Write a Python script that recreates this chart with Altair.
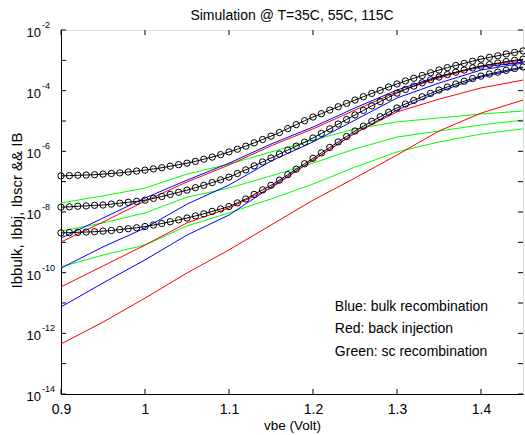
import altair as alt
import pandas as pd

FONT = "Liberation Sans"

# ---- sampling grid of the component curves (Volt) ----
vbe = [0.90, 0.95, 1.00, 1.05, 1.10, 1.15, 1.20, 1.25, 1.30, 1.35, 1.40, 1.45]

# log10 of current (A)
bulk_115 = [-8.86, -8.20, -7.54, -6.95, -6.39, -5.76, -5.20, -4.57, -3.98, -3.52, -3.22, -3.06]
bulk_55 = [-9.85, -9.15, -8.53, -7.74, -7.11, -6.32, -5.69, -4.97, -4.24, -3.75, -3.32, -3.09]
bulk_35 = [-11.13, -10.34, -9.58, -8.76, -8.10, -7.18, -6.29, -5.40, -4.64, -4.04, -3.55, -3.25]
bj_115 = [-8.99, -8.33, -7.64, -7.01, -6.45, -5.82, -5.26, -4.64, -4.04, -3.58, -3.19, -2.99]
bj_55 = [-10.47, -9.78, -9.09, -8.36, -7.87, -7.21, -6.29, -5.40, -4.70, -4.28, -3.91, -3.65]
bj_35 = [-12.35, -11.63, -10.84, -10.01, -9.25, -8.43, -7.61, -6.88, -6.12, -5.33, -4.74, -4.31]
sc_115 = [-7.70, -7.47, -7.21, -6.75, -6.42, -6.02, -5.63, -5.26, -5.03, -4.90, -4.77, -4.67]
sc_55 = [-8.63, -8.36, -8.03, -7.51, -7.21, -6.81, -6.39, -5.92, -5.53, -5.33, -5.13, -4.97]
sc_35 = [-9.81, -9.42, -9.09, -8.46, -8.03, -7.57, -7.08, -6.52, -6.02, -5.69, -5.43, -5.26]

# ---- total base current IB (black, circles) every 10 mV ----
vbe_ib = [0.90, 0.91, 0.92, 0.93, 0.94, 0.95, 0.96, 0.97, 0.98, 0.99,
          1.00, 1.01, 1.02, 1.03, 1.04, 1.05, 1.06, 1.07, 1.08, 1.09,
          1.10, 1.11, 1.12, 1.13, 1.14, 1.15, 1.16, 1.17, 1.18, 1.19,
          1.20, 1.21, 1.22, 1.23, 1.24, 1.25, 1.26, 1.27, 1.28, 1.29,
          1.30, 1.31, 1.32, 1.33, 1.34, 1.35, 1.36, 1.37, 1.38, 1.39,
          1.40, 1.41, 1.42, 1.43, 1.44, 1.45]
ib_115 = [-6.81, -6.80, -6.79, -6.78, -6.77, -6.75, -6.73, -6.71, -6.68, -6.65,
          -6.62, -6.58, -6.54, -6.49, -6.44, -6.39, -6.33, -6.26, -6.19, -6.11,
          -6.02, -5.93, -5.83, -5.72, -5.61, -5.50, -5.38, -5.25, -5.12, -4.99,
          -4.87, -4.76, -4.64, -4.53, -4.42, -4.31, -4.20, -4.09, -3.99, -3.88,
          -3.78, -3.68, -3.59, -3.50, -3.41, -3.32, -3.24, -3.17, -3.10, -3.03,
          -2.96, -2.90, -2.85, -2.79, -2.74, -2.69]
ib_55 = [-7.84, -7.83, -7.81, -7.80, -7.78, -7.77, -7.74, -7.71, -7.68, -7.65,
         -7.61, -7.55, -7.49, -7.42, -7.35, -7.28, -7.20, -7.12, -7.03, -6.94,
         -6.85, -6.73, -6.61, -6.48, -6.35, -6.22, -6.09, -5.96, -5.83, -5.70,
         -5.56, -5.41, -5.26, -5.10, -4.95, -4.80, -4.65, -4.50, -4.36, -4.22,
         -4.08, -3.96, -3.85, -3.74, -3.64, -3.55, -3.47, -3.39, -3.32, -3.25,
         -3.19, -3.14, -3.09, -3.04, -3.00, -2.96]
ib_35 = [-8.69, -8.68, -8.67, -8.66, -8.65, -8.63, -8.61, -8.58, -8.55, -8.52,
         -8.48, -8.43, -8.38, -8.32, -8.26, -8.20, -8.13, -8.06, -7.98, -7.90,
         -7.82, -7.70, -7.57, -7.42, -7.27, -7.12, -6.95, -6.77, -6.59, -6.41,
         -6.23, -6.05, -5.87, -5.69, -5.51, -5.33, -5.17, -5.01, -4.86, -4.71,
         -4.57, -4.44, -4.32, -4.20, -4.09, -3.98, -3.88, -3.78, -3.69, -3.60,
         -3.52, -3.45, -3.39, -3.33, -3.27, -3.22]

# ---- axis ticks / labels ----
x_ticks = [0.9, 1.0, 1.1, 1.2, 1.3, 1.4]
y_decades = [-14, -13, -12, -11, -10, -9, -8, -7, -6, -5, -4, -3, -2]
y_label_exps = [-14, -12, -10, -8, -6, -4, -2]

# ---- annotation text ----
notes = ["Blue: bulk recombination", "Red: back injection", "Green: sc recombination"]
notes_vbe = [1.226, 1.226, 1.226]
notes_exp = [-11.13, -11.86, -12.62]

# ---------------- build tables ----------------
rows = []
for name, kind, arr in [
    ("sc115", "sc", sc_115), ("sc55", "sc", sc_55), ("sc35", "sc", sc_35),
    ("bulk115", "bulk", bulk_115), ("bulk55", "bulk", bulk_55), ("bulk35", "bulk", bulk_35),
    ("bj115", "bj", bj_115), ("bj55", "bj", bj_55), ("bj35", "bj", bj_35),
]:
    for v, e in zip(vbe, arr):
        rows.append({"vbe": v, "I": 10 ** e, "kind": kind, "series": name})
comp = pd.DataFrame(rows)

rows = []
for name, arr in [("ib115", ib_115), ("ib55", ib_55), ("ib35", ib_35)]:
    for v, e in zip(vbe_ib, arr):
        rows.append({"vbe": v, "I": 10 ** e, "series": name})
ib = pd.DataFrame(rows)

xt = pd.DataFrame({"vbe": x_ticks})
yt = pd.DataFrame({"I": [10.0 ** d for d in y_decades]})
yl = pd.DataFrame({"I": [10.0 ** d for d in y_label_exps],
                   "sup": [str(d) for d in y_label_exps]})
nt = pd.DataFrame({"vbe": notes_vbe, "I": [10 ** e for e in notes_exp], "txt": notes})

W, H = 462, 364

xs = alt.Scale(domain=[0.9, 1.45], nice=False, zero=False)
ys = alt.Scale(type="log", domain=[1e-14, 1e-2], nice=False)

xaxis = alt.Axis(values=x_ticks, ticks=False, grid=False, labelFlush=False,
                 labelExpr="datum.value == 1 ? '1' : format(datum.value, '.1f')",
                 labelFont=FONT, labelFontSize=14, labelColor="black", labelPadding=8,
                 domainColor="black", domainWidth=1,
                 title="vbe (Volt)", titleFont=FONT, titleFontSize=13.5,
                 titleFontWeight="normal", titleColor="black", titleY=24)
yaxis = alt.Axis(labels=False, ticks=False, grid=False,
                 domainColor="black", domainWidth=1,
                 title="Ibbulk, Ibbj, Ibscr && IB", titleFont=FONT, titleFontSize=15,
                 titleFontWeight="normal", titleColor="black",
                 titleX=-37, titleY=180, titleAngle=-90, titleAlign="center")

X = alt.X("vbe:Q", scale=xs, axis=xaxis)
Y = alt.Y("I:Q", scale=ys, axis=yaxis)

lines = alt.Chart(comp).mark_line(strokeWidth=1).encode(
    x=X, y=Y,
    color=alt.Color("kind:N", scale=alt.Scale(domain=["sc", "bulk", "bj"],
                                              range=["#00ff00", "#0000ff", "#ff0000"]),
                    legend=None),
    detail="series:N",
)

ib_line = alt.Chart(ib).mark_line(strokeWidth=1, color="black").encode(
    x=X, y=Y, detail="series:N")
ib_pts = alt.Chart(ib).mark_point(shape="circle", filled=False, size=40,
                                  color="black", strokeWidth=1, opacity=1).encode(
    x=X, y=Y, detail="series:N")

tick_b = alt.Chart(xt).mark_rule(color="black").encode(
    x=X, y=alt.value(H), y2=alt.value(H - 5))
tick_t = alt.Chart(xt).mark_rule(color="black").encode(
    x=X, y=alt.value(0), y2=alt.value(5))
tick_l = alt.Chart(yt).mark_rule(color="black").encode(
    y=Y, x=alt.value(0), x2=alt.value(5))
tick_r = alt.Chart(yt).mark_rule(color="black").encode(
    y=Y, x=alt.value(W), x2=alt.value(W - 5))

lab10 = alt.Chart(yl).mark_text(font=FONT, fontSize=13, align="right",
                                baseline="middle", dy=3, color="black").encode(
    y=Y, x=alt.value(-20), text=alt.value("10"))
labsup = alt.Chart(yl).mark_text(font=FONT, fontSize=9, align="left",
                                 baseline="middle", dy=-5, color="black").encode(
    y=Y, x=alt.value(-19), text="sup:N")

notes_layer = alt.Chart(nt).mark_text(font=FONT, fontSize=14, align="left",
                                      baseline="middle", color="black").encode(
    x=X, y=Y, text="txt:N")

chart = alt.layer(
    lines, ib_line, ib_pts, tick_b, tick_t, tick_l, tick_r, lab10, labsup, notes_layer
).properties(
    width=W, height=H,
    title=alt.TitleParams("Simulation @ T=35C, 55C, 115C", font=FONT, fontSize=14,
                          fontWeight="normal", color="black", anchor="middle",
                          frame="group", offset=8, dy=10),
    autosize=alt.AutoSizeParams(type="none"),
    padding={"left": 61, "top": 30, "right": 2, "bottom": 41},
).configure_view(stroke="black", strokeWidth=1).configure(background="white")

chart.save("out.html", embed_options={"renderer": "svg", "actions": False})
